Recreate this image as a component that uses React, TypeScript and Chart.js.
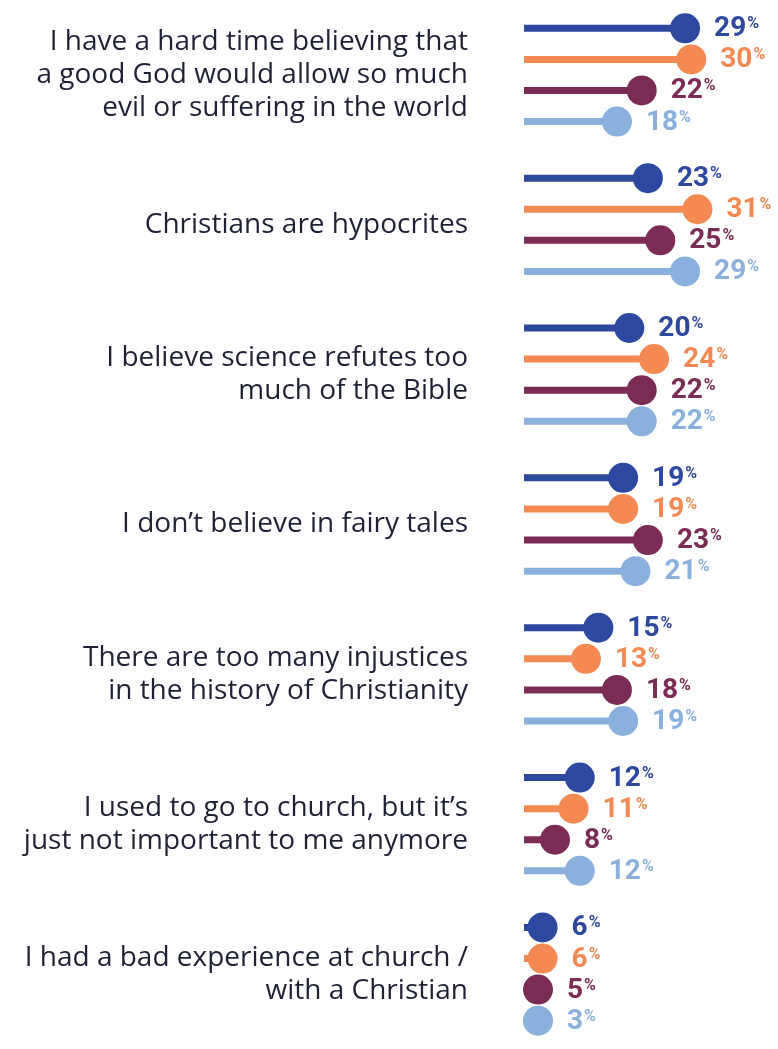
import React, { useEffect, useRef } from "react";
import { Chart, registerables } from "chart.js";

Chart.register(...registerables);

const categories: string[][] = [
  ["I have a hard time believing that", "a good God would allow so much", "evil or suffering in the world"],
  ["Christians are hypocrites"],
  ["I believe science refutes too", "much of the Bible"],
  ["I don\u2019t believe in fairy tales"],
  ["There are too many injustices", "in the history of Christianity"],
  ["I used to go to church, but it\u2019s", "just not important to me anymore"],
  ["I had a bad experience at church /", "with a Christian"],
];

const seriesBlue = [29, 23, 20, 19, 15, 12, 6];
const seriesOrange = [30, 31, 24, 19, 13, 11, 6];
const seriesMaroon = [22, 25, 22, 23, 18, 8, 5];
const seriesLight = [18, 29, 22, 21, 19, 12, 3];

const seriesNames = ["Series 1", "Series 2", "Series 3", "Series 4"];
const seriesColors = ["#2D489F", "#F48A52", "#7A2C55", "#8AB0DE"];

const W = 778;
const H = 1049;

const lollipopPlugin = {
  id: "lollipop",
  afterDatasetsDraw(chart: any) {
    const ctx = chart.ctx;
    const area = chart.chartArea;
    const r = 15;
    chart.data.datasets.forEach((ds: any, di: number) => {
      const meta = chart.getDatasetMeta(di);
      meta.data.forEach((bar: any, i: number) => {
        const v = ds.data[i];
        const x = Math.max(bar.x, area.left + r - 1);
        const y = bar.y;
        ctx.save();
        ctx.fillStyle = ds.backgroundColor;
        ctx.beginPath();
        ctx.arc(x, y, r, 0, Math.PI * 2);
        ctx.fill();
        const tx = x + r + 14;
        ctx.font = "bold 28px Roboto";
        ctx.textAlign = "left";
        ctx.textBaseline = "middle";
        const num = String(v);
        ctx.fillText(num, tx, y + 1);
        const w = ctx.measureText(num).width;
        ctx.font = "bold 16px Roboto";
        ctx.textBaseline = "top";
        ctx.fillText("%", tx + w + 1, y - 12);
        ctx.restore();
      });
    });
  },
};

export default function App() {
  const ref = useRef<HTMLCanvasElement | null>(null);
  useEffect(() => {
    if (!ref.current) return;
    const values = [seriesBlue, seriesOrange, seriesMaroon, seriesLight];
    const chart = new Chart(ref.current, {
      type: "bar",
      data: {
        labels: categories,
        datasets: values.map((d, i) => ({
          label: seriesNames[i],
          data: d,
          backgroundColor: seriesColors[i],
          borderWidth: 0,
          maxBarThickness: 7,
          barPercentage: 1,
          categoryPercentage: 0.83,
        })),
      },
      options: {
        indexAxis: "y",
        animation: false,
        responsive: false,
        layout: { padding: 0 },
        plugins: {
          legend: { display: false },
          tooltip: { enabled: false },
        },
        scales: {
          x: {
            type: "linear",
            min: 3,
            max: 44,
            display: false,
          },
          y: {
            grid: { display: false },
            border: { display: false },
            ticks: {
              padding: 48,
              color: "#1F2236",
              font: { family: "'Open Sans'", size: 28, weight: 500, lineHeight: 1.18 },
            },
            afterFit(scale: any) {
              scale.width = 524;
              scale.paddingTop = 0;
              scale.paddingBottom = 0;
            },
          },
        },
      },
      plugins: [lollipopPlugin],
    });
    return () => chart.destroy();
  }, []);
  return (
    <div style={{ position: "absolute", left: 0, top: 0, width: W, height: H, background: "#fff" }}>
      <canvas ref={ref} width={W} height={H} style={{ display: "block", width: W, height: H }} />
    </div>
  );
}
